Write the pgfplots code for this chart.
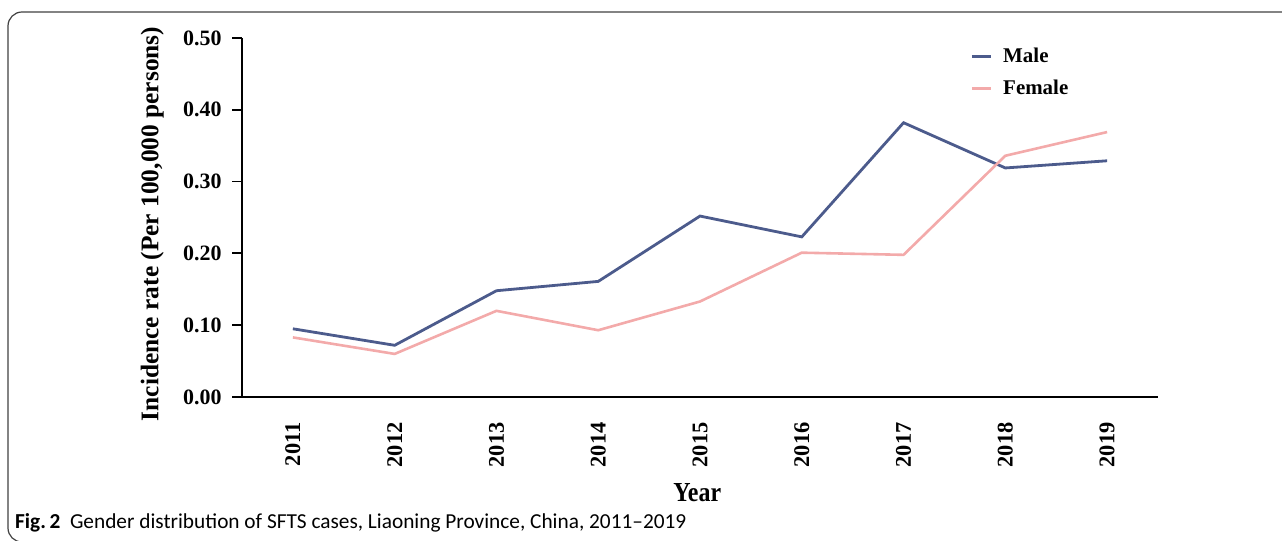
\documentclass[border=0pt]{standalone}
\usepackage{fontspec}
\setmainfont{Liberation Serif}
\newfontfamily\capfont[Ligatures=TeX]{Carlito}
\usepackage{pgfplots}
\pgfplotsset{compat=1.18}
\definecolor{maleC}{HTML}{4C5B8C}
\definecolor{femaleC}{HTML}{F3AAAA}
\begin{document}
\begin{tikzpicture}
\path[use as bounding box] (0,0) rectangle (1282bp,541bp);
% frame
\begin{scope}
\clip (0,0) rectangle (1282bp,541bp);
\draw[line width=1.2bp, black!75, rounded corners=14bp] (1300bp,529bp) -- (8bp,529bp) -- (8bp,-1bp) -- (1300bp,-1bp);
\end{scope}
\node[anchor=base west, inner sep=0pt, font=\capfont\fontsize{21.4}{21.4}\selectfont] at (15bp,13bp) {\textbf{Fig.\,2}\ \ Gender distribution of SFTS cases, Liaoning Province, China, 2011--2019};
\begin{axis}[
  at={(242bp,144bp)}, anchor=south west,
  scale only axis, width=916bp, height=359bp,
  xmin=0, xmax=9, ymin=0, ymax=0.5,
  axis lines*=left,
  axis line style={line width=1.8bp, black},
  every tick/.style={line width=1.8bp, black},
  tick align=outside,
  major tick length=10bp,
  minor tick length=10bp,
  ytick={0,0.1,0.2,0.3,0.4,0.5},
  xtick={0.5,1.5,...,8.5},
  xticklabels={2011,2012,2013,2014,2015,2016,2017,2018,2019},
  minor xtick={0,1,...,9},
  xtick style={draw=none},
  minor x tick style={line width=1.8bp, black},
  xticklabel style={rotate=90, anchor=east, font=\fontsize{22.5}{22.5}\bfseries\selectfont},
  xticklabel shift=12bp,
  yticklabel style={font=\fontsize{22}{22}\bfseries\selectfont},
  yticklabel shift=7bp,
  /pgf/number format/.cd, fixed, fixed zerofill, precision=2, assume math mode=true,
  /pgfplots/.cd,
  xlabel={\scalebox{1}[1.15]{Year}},
  xlabel style={font=\fontsize{24}{24}\bfseries\selectfont, at={(axis description cs:0.497,-0.265)}, anchor=center},
  ylabel={Incidence rate (Per 100,000 persons)},
  ylabel style={font=\fontsize{25.5}{25.5}\bfseries\selectfont, at={(axis description cs:-0.098,0.482)}, anchor=center, rotate=0},
  legend style={draw=none, fill=none, anchor=north west, at={(axis description cs:0.795,0.978)}, font=\fontsize{21}{21}\bfseries\selectfont, row sep=11bp, inner sep=0pt,
    nodes={inner sep=0pt, text height=16bp, text depth=5bp},
    /tikz/every odd column/.style={column sep=11bp}},
  legend cell align=left,
  legend image code/.code={\draw[#1] (0bp,0bp) -- (19bp,0bp);},
]
\addplot[color=maleC, line width=2.8bp] coordinates {
(0.5,0.095) (1.5,0.072) (2.5,0.148) (3.5,0.161) (4.5,0.252) (5.5,0.223) (6.5,0.382) (7.5,0.319) (8.5,0.329)};
\addlegendentry{Male}
\addplot[color=femaleC, line width=2.6bp] coordinates {
(0.5,0.083) (1.5,0.060) (2.5,0.120) (3.5,0.093) (4.5,0.133) (5.5,0.201) (6.5,0.198) (7.5,0.336) (8.5,0.369)};
\addlegendentry{Female}
\end{axis}
\end{tikzpicture}
\end{document}
